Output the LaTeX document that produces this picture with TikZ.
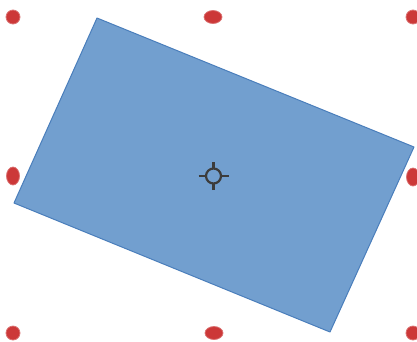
\documentclass[tikz,border=0pt]{standalone}
\usepackage{tikz}
\usetikzlibrary{positioning}

\definecolor{shapefill}{RGB}{114,159,207}
\definecolor{shapeedge}{RGB}{74,126,187}
\definecolor{handlered}{RGB}{204,56,56}
\definecolor{pivotgray}{RGB}{60,60,60}

\begin{document}
\begin{tikzpicture}[x=1pt, y=-1pt,
    rect/.style={fill=shapefill, draw=shapeedge, line width=1pt, line join=round},
    handle/.style={fill=handlered, draw=handlered!70!white, line width=0.8pt},
    pivot/.style={draw=pivotgray, line width=2.2pt}]
    \useasboundingbox (0,0) rectangle (417,341);

    % Gedrehtes Rechteck
    \draw[rect] (97,18) -- (414,147) -- (330,332) -- (14,203) -- cycle;

    % Ecken
    \foreach \x/\y/\n in {13/17/tl, 413/17/tr, 13/333/bl, 413/333/br}
        \fill[handle] (\x,\y) circle[radius=7pt] coordinate (h\n);
    % Mitten oben/unten
    \foreach \x/\y/\n in {213/17/tm, 214/333/bm}
        \fill[handle] (\x,\y) ellipse[x radius=9pt, y radius=6.5pt] coordinate (h\n);
    % Mitten links/rechts
    \foreach \x/\y/\n in {13/176/ml, 413/177/mr}
        \fill[handle] (\x,\y) ellipse[x radius=6.5pt, y radius=9pt] coordinate (h\n);

    % Drehpunkt
    \coordinate (piv) at (213.5,176);
    \draw[pivot] (piv) circle[radius=7.5pt];
    \draw[pivot] ([xshift=-15pt]piv) -- ([xshift=-7.5pt]piv)
                 ([xshift=7.5pt]piv) -- ([xshift=15pt]piv)
                 ([yshift=-14pt]piv) -- ([yshift=-7.5pt]piv)
                 ([yshift=7.5pt]piv) -- ([yshift=14pt]piv);
\end{tikzpicture}
\end{document}
